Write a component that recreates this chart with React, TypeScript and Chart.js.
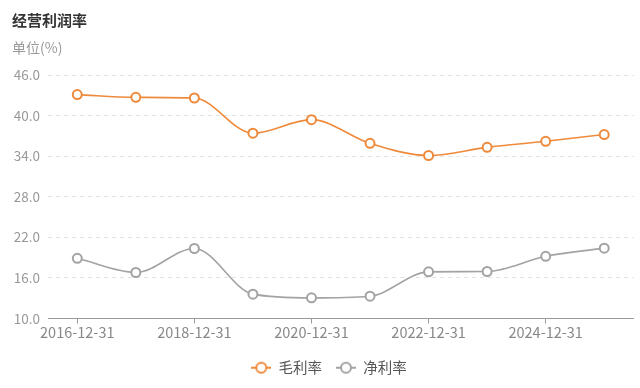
import React, { useEffect, useRef } from "react";
import { Chart, registerables } from "chart.js";

Chart.register(...registerables);

const chartTitle = "经营利润率";
const unitLabel = "单位(%)";
const categories = [
  "2016-12-31",
  "2017-12-31",
  "2018-12-31",
  "2019-12-31",
  "2020-12-31",
  "2021-12-31",
  "2022-12-31",
  "2023-12-31",
  "2024-12-31",
  "2025-12-31",
];
const seriesNames = ["毛利率", "净利率"];
const grossMargin = [43.1, 42.7, 42.6, 37.4, 39.4, 35.9, 34.1, 35.3, 36.2, 37.2];
const netMargin = [18.9, 16.8, 20.35, 13.6, 13.05, 13.3, 16.9, 16.95, 19.2, 20.4];
const yMin = 10;
const yMax = 46;
const yStep = 6;

const ORANGE = "#EE8A3C";
const GRAY = "#A3A3A3";
const FONT = "'Noto Sans CJK SC', 'Noto Sans', sans-serif";

function legendIcon(color: string): HTMLCanvasElement {
  const c = document.createElement("canvas");
  c.width = 20;
  c.height = 14;
  const ctx = c.getContext("2d")!;
  ctx.strokeStyle = color;
  ctx.lineWidth = 2;
  ctx.beginPath();
  ctx.moveTo(0, 7);
  ctx.lineTo(20, 7);
  ctx.stroke();
  ctx.beginPath();
  ctx.arc(10, 7, 5, 0, Math.PI * 2);
  ctx.fillStyle = "#fff";
  ctx.fill();
  ctx.stroke();
  return c;
}

const headerPlugin = {
  id: "header",
  afterLayout(chart: any) {
    if (chart.legend) {
      chart.legend.left += 10;
      chart.legend.right += 10;
    }
  },
  afterDraw(chart: any) {
    const ctx = chart.ctx;
    ctx.save();
    ctx.textAlign = "left";
    ctx.textBaseline = "middle";
    ctx.fillStyle = "#333";
    ctx.font = `bold 15px ${FONT}`;
    ctx.fillText(chartTitle, 12, 20);
    ctx.fillStyle = "#999";
    ctx.font = `14px ${FONT}`;
    ctx.fillText(unitLabel, 12, 48);
    ctx.restore();
  },
};

export default function App() {
  const ref = useRef<HTMLCanvasElement>(null);

  useEffect(() => {
    document.body.style.margin = "0";
    const icons = [legendIcon(ORANGE), legendIcon(GRAY)];
    const chart = new Chart(ref.current!, {
      type: "line",
      data: {
        labels: categories,
        datasets: [
          {
            label: seriesNames[0],
            data: grossMargin,
            borderColor: ORANGE,
            backgroundColor: "#fff",
            borderWidth: 1.6,
            pointRadius: 4.5,
            pointBorderWidth: 2,
            pointBackgroundColor: "#fff",
            pointBorderColor: ORANGE,
            cubicInterpolationMode: "monotone",
            pointStyle: "circle",
          },
          {
            label: seriesNames[1],
            data: netMargin,
            borderColor: GRAY,
            backgroundColor: "#fff",
            borderWidth: 1.6,
            pointRadius: 4.5,
            pointBorderWidth: 2,
            pointBackgroundColor: "#fff",
            pointBorderColor: GRAY,
            cubicInterpolationMode: "monotone",
            pointStyle: "circle",
          },
        ],
      },
      options: {
        animation: false,
        responsive: false,
        maintainAspectRatio: false,
        layout: { padding: { top: 75, left: 0, right: 2, bottom: 3 } },
        plugins: {
          tooltip: { enabled: false },
          legend: {
            position: "bottom",
            labels: {
              usePointStyle: true,
              pointStyleWidth: 20,
              padding: 14,
              color: "#555",
              font: { size: 14.5, family: FONT },
              generateLabels: () =>
                seriesNames.map((n, i) => ({
                  text: n,
                  pointStyle: icons[i],
                  fillStyle: "#fff",
                  strokeStyle: i === 0 ? ORANGE : GRAY,
                  lineWidth: 0,
                  datasetIndex: i,
                  hidden: false,
                  fontColor: "#555",
                })),
            },
          },
        },
        scales: {
          x: {
            type: "category",
            offset: true,
            afterFit: (s: any) => {
              s.height = 28;
            },
            border: { display: true, color: "#9a9a9a", width: 1 },
            grid: {
              offset: false,
              drawOnChartArea: false,
              drawTicks: true,
              tickLength: 5,
              tickColor: (c: any) => (c.index % 2 === 0 ? "#9a9a9a" : "rgba(0,0,0,0)"),
            },
            ticks: {
              autoSkip: false,
              maxRotation: 0,
              padding: 0,
              color: "#888",
              font: { size: 14.5, family: FONT },
              callback: (_v: any, i: number) => (i % 2 === 0 ? categories[i] : ""),
            },
          },
          y: {
            min: yMin,
            max: yMax,
            afterFit: (s: any) => {
              s.width = 48;
            },
            border: { display: false, dash: [4, 4] },
            grid: {
              drawTicks: false,
              color: "#e3e3e3",
              lineWidth: 1,
            },
            ticks: {
              stepSize: yStep,
              padding: 8,
              color: "#999",
              font: { size: 13.5, family: FONT },
              callback: (v: any) => Number(v).toFixed(1),
            },
          } as any,
        },
      },
      plugins: [headerPlugin],
    });
    return () => chart.destroy();
  }, []);

  return (
    <div style={{ width: 640, height: 388, position: "relative" }}>
      <canvas ref={ref} width={640} height={388} style={{ width: 640, height: 388, display: "block" }} />
    </div>
  );
}
